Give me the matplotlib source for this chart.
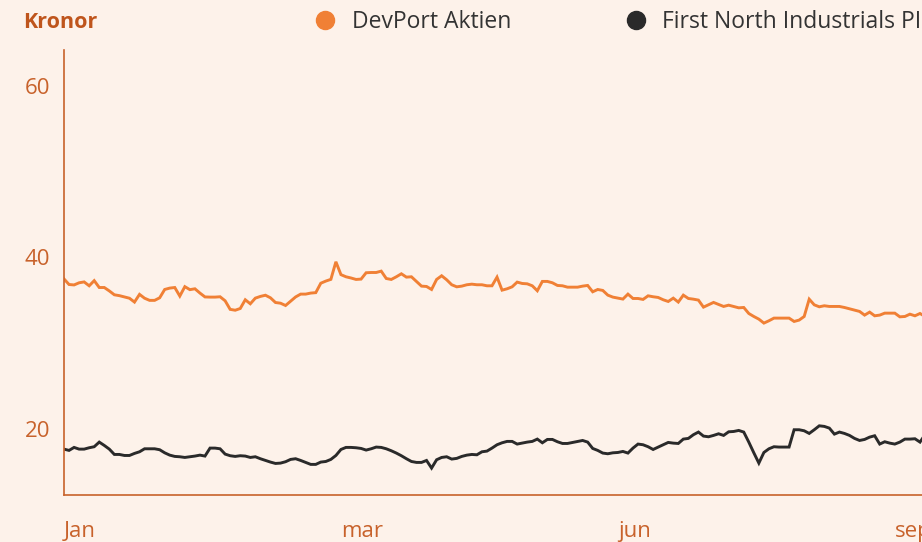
import matplotlib
matplotlib.use("Agg")
import matplotlib.pyplot as plt
from matplotlib.lines import Line2D

# DevPort Aktien (kronor), one value per trading day
devport_1 = [37.5, 36.85, 36.8, 37.05, 37.15, 36.7, 37.3, 36.5, 36.5, 36.1,
             35.65, 35.55, 35.4, 35.25, 34.8, 35.7, 35.25, 35.0, 35.0, 35.3,
             36.27, 36.43, 36.5, 35.5, 36.6, 36.25, 36.35, 35.85, 35.4, 35.38,
             35.38, 35.42, 34.95, 33.95, 33.85, 34.05, 35.07, 34.6, 35.26, 35.46,
             35.6, 35.3, 34.75, 34.67, 34.4, 34.9, 35.4, 35.73, 35.73, 35.85,
             35.9, 37.0, 37.25, 37.45, 39.5, 38.0, 37.75]
devport_2 = [37.61, 37.44, 37.48, 38.22, 38.25, 38.25, 38.41, 37.55, 37.44, 37.75,
             38.10, 37.71, 37.75, 37.21, 36.66, 36.62, 36.27, 37.44, 37.87, 37.40,
             36.82, 36.58, 36.66, 36.82, 36.89, 36.82, 36.82, 36.70, 36.70, 37.71,
             36.19, 36.35, 36.58, 37.13, 36.97, 36.93, 36.70, 36.12, 37.21, 37.21,
             37.05, 36.74, 36.70, 36.54, 36.54, 36.54, 36.66, 36.74, 36.00, 36.27,
             36.16, 35.61, 35.38, 35.26, 35.15, 35.73, 35.22]
devport_3 = [35.22, 35.11, 35.53, 35.42, 35.34, 35.07, 34.87, 35.26, 34.80, 35.61,
             35.22, 35.14, 35.03, 34.21, 34.48, 34.76, 34.52, 34.29, 34.44, 34.29,
             34.13, 34.17, 33.47, 33.12, 32.81, 32.35, 32.62, 32.93, 32.93, 32.93,
             32.93, 32.54, 32.70, 33.12, 35.14, 34.48, 34.25, 34.37, 34.29, 34.29,
             34.29, 34.17, 34.02, 33.86, 33.71, 33.28, 33.63, 33.20, 33.28, 33.51,
             33.51, 33.51, 33.08, 33.12, 33.39, 33.20, 33.47, 33.12]

# First North Industrials PI, same days
index_1 = [17.65, 17.50, 17.85, 17.65, 17.65, 17.81, 17.93, 18.47, 18.08, 17.65,
           17.03, 17.03, 16.91, 16.91, 17.15, 17.34, 17.69, 17.69, 17.69, 17.58,
           17.22, 16.95, 16.80, 16.76, 16.68, 16.76, 16.84, 16.95, 16.84, 17.77,
           17.77, 17.69, 17.07, 16.88, 16.80, 16.88, 16.84, 16.68, 16.76, 16.53,
           16.33, 16.14, 15.98, 16.02, 16.18, 16.45, 16.53, 16.33, 16.10, 15.87,
           15.87, 16.14, 16.21, 16.45, 16.91, 17.61, 17.85]
index_2 = [17.85, 17.81, 17.73, 17.54, 17.69, 17.89, 17.85, 17.69, 17.46, 17.19,
           16.88, 16.53, 16.21, 16.10, 16.10, 16.33, 15.44, 16.41, 16.68, 16.76,
           16.49, 16.57, 16.80, 16.95, 17.03, 16.99, 17.34, 17.42, 17.77, 18.16,
           18.39, 18.55, 18.55, 18.24, 18.35, 18.47, 18.55, 18.82, 18.39, 18.78,
           18.78, 18.51, 18.31, 18.31, 18.43, 18.55, 18.66, 18.47, 17.73, 17.50,
           17.19, 17.11, 17.22, 17.26, 17.38, 17.19, 17.77]
index_3 = [18.24, 18.16, 17.93, 17.61, 17.89, 18.16, 18.43, 18.35, 18.31, 18.82,
           18.90, 19.33, 19.64, 19.17, 19.09, 19.25, 19.44, 19.25, 19.67, 19.71,
           19.83, 19.64, 18.47, 17.22, 16.02, 17.26, 17.69, 17.93, 17.89, 17.89,
           17.89, 19.91, 19.91, 19.79, 19.48, 19.91, 20.37, 20.30, 20.10, 19.40,
           19.64, 19.48, 19.25, 18.90, 18.66, 18.78, 19.05, 19.21, 18.24, 18.51,
           18.35, 18.24, 18.47, 18.82, 18.82, 18.86, 18.47, 19.33]

devport = devport_1 + devport_2 + devport_3
index = index_1 + index_2 + index_3
days = list(range(len(devport)))

month_ticks = [0, 55, 110, 165]
month_labels = ["Jan", "mar", "jun", "sep"]
y_ticks = [20, 40, 60]

bg = "#fdf2ea"
axis_col = "#c8622b"
orange = "#f08035"
dark = "#2a2a2a"

plt.rcParams["font.family"] = ["Open Sans", "DejaVu Sans"]

fig = plt.figure(figsize=(9.22, 5.42), dpi=100, facecolor=bg)
W, H = 922, 542
ax = fig.add_axes([64 / W, 47 / H, (W - 64) / W, 445 / H])
ax.set_facecolor(bg)

ax.plot(days, devport, color=orange, lw=2.1, solid_joinstyle="miter")
ax.plot(days, index, color=dark, lw=2.1, solid_joinstyle="miter")

ax.set_xlim(0, 170.4)
ax.set_ylim(12.3, 64.2)
ax.set_yticks(y_ticks)
ax.set_xticks(month_ticks)
ax.set_xticklabels(month_labels, ha="left")

for s in ["top", "right"]:
    ax.spines[s].set_visible(False)
for s in ["left", "bottom"]:
    ax.spines[s].set_color(axis_col)
    ax.spines[s].set_linewidth(1.2)

ax.tick_params(axis="y", length=0, pad=10, labelsize=16, labelcolor=axis_col)
ax.tick_params(axis="x", length=0, pad=19, labelsize=16, labelcolor=axis_col)

fig.text(23 / W, 1 - 22 / H, "Kronor", fontsize=15.5, fontweight="bold",
         color="#bf551c", ha="left", va="center")

# legend
for cx, col, label, tx in [(325, orange, "DevPort Aktien", 352),
                           (636, dark, "First North Industrials PI", 662)]:
    fig.add_artist(Line2D([cx / W], [1 - 20 / H], marker="o", markersize=13,
                          color=col, linestyle="none", transform=fig.transFigure))
    fig.text(tx / W, 1 - 22 / H, label, fontsize=16.5, color="#333333",
             ha="left", va="center")

fig.savefig("out.png", dpi=100, facecolor=bg)
